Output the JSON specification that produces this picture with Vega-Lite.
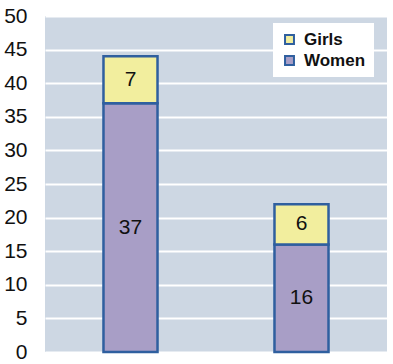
{
  "$schema": "https://vega.github.io/schema/vega-lite/v6.json",
  "width": 342,
  "height": 336,
  "autosize": "none",
  "padding": {"left": 45, "top": 16, "right": 6, "bottom": 12},
  "background": "white",
  "config": {
    "view": {"fill": "#CDD7E3", "stroke": null},
    "font": "Liberation Sans",
    "axisY": {
      "title": null, "values": [0,5,10,15,20,25,30,35,40,45,50],
      "labelOverlap": false, "labelBound": false, "labelFlush": false,
      "domain": false, "ticks": false, "labelPadding": 18,
      "labelFontSize": 21, "labelColor": "#111111", "labelFont": "Liberation Sans",
      "grid": true, "gridColor": "white", "gridWidth": 2
    }
  },
  "data": {
    "values": [
      {"group": "A", "type": "Women", "ord": 1, "value": 37},
      {"group": "A", "type": "Girls", "ord": 2, "value": 7},
      {"group": "B", "type": "Women", "ord": 1, "value": 16},
      {"group": "B", "type": "Girls", "ord": 2, "value": 6}
    ]
  },
  "transform": [
    {"stack": "value", "groupby": ["group"], "sort": [{"field": "ord"}], "as": ["v0", "v1"]},
    {"calculate": "(datum.v0 + datum.v1) / 2", "as": "mid"}
  ],
  "encoding": {
    "x": {
      "field": "group", "type": "nominal",
      "scale": {"paddingInner": 0.684, "paddingOuter": 0.342},
      "axis": null
    }
  },
  "layer": [
    {
      "mark": {"type": "bar", "stroke": "#2F5F9F", "strokeWidth": 2.5},
      "encoding": {
        "y": {
          "field": "v0", "type": "quantitative",
          "scale": {"domain": [0, 50], "nice": false},
          "axis": {"title": null, "values": [0,5,10,15,20,25,30,35,40,45,50]}
        },
        "y2": {"field": "v1"},
        "color": {
          "field": "type", "type": "nominal",
          "scale": {"domain": ["Girls", "Women"], "range": ["#F2EE9E", "#A89EC6"]},
          "legend": {
            "title": null, "orient": "none", "legendX": 228, "legendY": 7,
            "fillColor": "white", "padding": 8,
            "symbolType": "square", "symbolSize": 80,
            "symbolStrokeColor": "#2F5F9F", "symbolStrokeWidth": 2,
            "labelFontSize": 17, "labelFontWeight": "bold", "labelColor": "#111111",
            "labelFont": "Liberation Sans", "labelOffset": 6, "rowPadding": 3
          }
        }
      }
    },
    {
      "mark": {"type": "text", "fontSize": 21, "color": "#111111", "font": "Liberation Sans", "baseline": "middle"},
      "encoding": {
        "y": {
          "field": "mid", "type": "quantitative",
          "axis": {"title": null, "values": [0,5,10,15,20,25,30,35,40,45,50]}
        },
        "text": {"field": "value", "type": "quantitative"}
      }
    }
  ]
}
